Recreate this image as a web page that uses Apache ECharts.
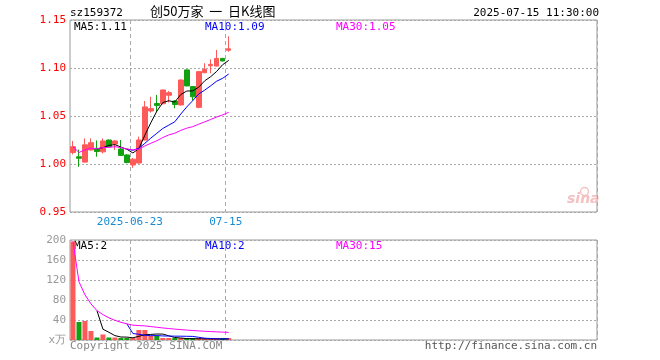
<!DOCTYPE html>
<html><head><meta charset="utf-8">
<script src="https://cdn.jsdelivr.net/npm/echarts@6/dist/echarts.min.js"></script>
<style>html,body{margin:0;padding:0;background:#fff}#c{width:660px;height:360px}</style>
</head><body><div id="c"></div>
<script>
// ---- data ----
const dates = ['2025-06-09','2025-06-10','2025-06-11','2025-06-12','2025-06-13',
  '2025-06-16','2025-06-17','2025-06-18','2025-06-19','2025-06-20',
  '2025-06-23','2025-06-24','2025-06-25','2025-06-26','2025-06-27',
  '2025-06-30','2025-07-01','2025-07-02','2025-07-03','2025-07-04',
  '2025-07-07','2025-07-08','2025-07-09','2025-07-10','2025-07-11',
  '2025-07-14','2025-07-15'];
const openP  = [1.012,1.0075,1.002,1.0146,1.0163,1.0127,1.025,1.0208,1.0155,1.0094,0.999,1.001,1.025,1.0552,1.063,1.0628,1.0716,1.0656,1.0615,1.098,1.0806,1.059,1.0951,1.1024,1.102,1.110,1.1185];
const closeP = [1.018,1.006,1.020,1.0222,1.013,1.024,1.018,1.024,1.009,1.0015,1.005,1.025,1.0595,1.0577,1.061,1.0771,1.0743,1.062,1.0875,1.0813,1.070,1.0962,1.0986,1.1038,1.110,1.1073,1.120];
const lowP   = [1.010,0.997,1.0015,1.0139,1.0076,1.011,1.0175,1.0146,1.0083,1.0007,0.996,1.0005,1.0245,1.0535,1.054,1.062,1.064,1.058,1.061,1.081,1.066,1.058,1.0945,1.0945,1.1014,1.107,1.117];
const highP  = [1.024,1.015,1.0267,1.0267,1.0245,1.0267,1.0255,1.025,1.025,1.0104,1.0063,1.0285,1.0656,1.070,1.072,1.0775,1.076,1.0665,1.088,1.0985,1.0813,1.097,1.105,1.109,1.1188,1.1105,1.133];
const ma5  = ['-','-','-','-',1.0158,1.017,1.0194,1.0202,1.0176,1.0153,1.0115,1.016,1.030,1.043,1.055,1.064,1.0659,1.0645,1.0724,1.0760,1.0762,1.0800,1.0867,1.0910,1.0965,1.1035,1.1079];
const ma10 = ['-','-','-','-','-','-','-','-','-',1.0156,1.0143,1.0165,1.0215,1.027,1.032,1.037,1.0405,1.044,1.052,1.0595,1.0660,1.0730,1.0770,1.0815,1.0863,1.0893,1.0937];
const ma30 = [1.018,1.012,1.0147,1.0165,1.0158,1.0172,1.0173,1.0181,1.0171,1.0156,1.0146,1.0155,1.0188,1.0216,1.0242,1.0276,1.0303,1.0321,1.0350,1.0373,1.0389,1.0415,1.0439,1.0464,1.0490,1.0512,1.0538];
const volume = [197,36,38,18,5,11,5,5,4,4,4,20,20,8,8,3,3,3,3,2,2,2,2,2,2,2,3];
const volMa5  = ['-','-','-','-',58.8,21.6,15.4,8.8,6,5.8,4.4,7.4,10.4,11.2,12,11.8,8.4,5,4,2.8,2.6,2.4,2.2,2,2,2,2.2];
const volMa10 = ['-','-','-','-','-','-','-','-','-',32.3,13.0,11.4,9.6,8.6,8.9,8.1,7.9,7.7,7.6,7.4,7.2,5.4,3.6,3.0,2.4,2.3,2.3];
const volMa30 = [197,116.5,90.3,72.25,58.8,50.8,44.3,39.4,35.4,32.3,29.7,28.9,28.2,26.8,25.5,24.1,22.9,21.8,20.8,19.85,19.0,18.2,17.5,16.9,16.3,15.7,15.26];
const shownDates = ['2025-06-23','2025-07-15'];
const priceMin = 0.95, priceMax = 1.15, priceStep = 0.05;
const volMin = 0, volMax = 200, volStep = 40;
const SLOTS = 88;

// ---- build ----
const cats = dates.slice();
while (cats.length < SLOTS) cats.push('');
const kData = openP.map((o,i)=>[o, closeP[i], lowP[i], highP[i]]);
const RED = '#FF5A5A', GREEN = '#10A010';
const MONO = '"DejaVu Sans Mono", "Liberation Mono", monospace';
const shownIdx = shownDates.map(d => dates.indexOf(d));
const last = a => a[a.length-1];

const xCommon = {
  type:'category', data:cats, boundaryGap:true,
  axisLine:{show:false}, axisTick:{show:false},
  splitLine:{show:true, interval:(i)=>shownIdx.includes(i), lineStyle:{color:'#aaa', type:[4,3], width:1}}
};

const chart = echarts.init(document.getElementById('c'), null, {renderer:'canvas'});
chart.setOption({
  animation:false,
  backgroundColor:'#fff',
  grid:[
    {left:70, top:20, width:527, height:192, show:true, borderColor:'#999', borderWidth:1, backgroundColor:'transparent'},
    {left:70, top:240, width:527, height:100, show:true, borderColor:'#999', borderWidth:1, backgroundColor:'transparent'}
  ],
  xAxis:[
    Object.assign({gridIndex:0, axisLabel:{show:true, interval:(i)=>shownIdx.includes(i),
      formatter:(v,i)=> i===shownIdx[0] ? v : v.slice(5),
      color:'#1a8ad4', fontFamily:MONO, fontSize:11, margin:5, padding:[0,6,0,0]}}, xCommon),
    Object.assign({gridIndex:1, axisLabel:{show:false}}, xCommon)
  ],
  yAxis:[
    {type:'value', gridIndex:0, min:priceMin, max:priceMax, interval:priceStep,
     axisLine:{show:false}, axisTick:{show:false},
     axisLabel:{color:'#f00', fontFamily:MONO, fontSize:11, margin:4, formatter:v=>v.toFixed(2)},
     splitLine:{show:true, lineStyle:{color:'#aaa', type:[2,2], width:1}}},
    {type:'value', gridIndex:1, min:volMin, max:volMax, interval:volStep,
     axisLine:{show:false}, axisTick:{show:false},
     axisLabel:{color:'#999', fontFamily:MONO, fontSize:11, margin:4, formatter:v=> v===0 ? 'x万' : String(v)},
     splitLine:{show:true, lineStyle:{color:'#aaa', type:[2,2], width:1}}}
  ],
  series:[
    {type:'candlestick', xAxisIndex:0, yAxisIndex:0, data:kData, barWidth:5,
     itemStyle:{color:RED, color0:GREEN, borderColor:RED, borderColor0:GREEN, borderWidth:1}},
    {type:'line', xAxisIndex:0, yAxisIndex:0, data:ma5, showSymbol:false, symbol:'none', lineStyle:{color:'#000', width:1}},
    {type:'line', xAxisIndex:0, yAxisIndex:0, data:ma10, showSymbol:false, symbol:'none', lineStyle:{color:'#0000ff', width:1}},
    {type:'line', xAxisIndex:0, yAxisIndex:0, data:ma30, showSymbol:false, symbol:'none', lineStyle:{color:'#ff00ff', width:1}},
    {type:'bar', xAxisIndex:1, yAxisIndex:1, data:volume, barWidth:5, barMinHeight:2,
     itemStyle:{color:(p)=> closeP[p.dataIndex] >= openP[p.dataIndex] ? RED : GREEN}},
    {type:'line', xAxisIndex:1, yAxisIndex:1, data:volMa5, showSymbol:false, symbol:'none', lineStyle:{color:'#000', width:1}},
    {type:'line', xAxisIndex:1, yAxisIndex:1, data:volMa10, showSymbol:false, symbol:'none', lineStyle:{color:'#0000ff', width:1}},
    {type:'line', xAxisIndex:1, yAxisIndex:1, data:volMa30, showSymbol:false, symbol:'none', lineStyle:{color:'#ff00ff', width:1}}
  ],
  graphic:[
    {type:'text', left:70, top:8, style:{text:'sz159372', fill:'#000', font:'11px '+MONO}},
    {type:'text', left:150, top:5, style:{text:'创50万家  一  日K线图', fill:'#000', font:'13px "Noto Sans CJK SC"'}},
    {type:'text', right:61, top:8, style:{text:dates[dates.length-1]+' 11:30:00', fill:'#000', font:'11px '+MONO}},
    {type:'text', left:74, top:22, style:{text:'MA5:'+last(ma5).toFixed(2), fill:'#000', font:'11px '+MONO}},
    {type:'text', left:205, top:22, style:{text:'MA10:'+last(ma10).toFixed(2), fill:'#0000ff', font:'11px '+MONO}},
    {type:'text', left:336, top:22, style:{text:'MA30:'+last(ma30).toFixed(2), fill:'#ff00ff', font:'11px '+MONO}},
    {type:'text', left:74, top:241, style:{text:'MA5:'+Math.round(last(volMa5)), fill:'#000', font:'11px '+MONO}},
    {type:'text', left:205, top:241, style:{text:'MA10:'+Math.round(last(volMa10)), fill:'#0000ff', font:'11px '+MONO}},
    {type:'text', left:336, top:241, style:{text:'MA30:'+Math.round(last(volMa30)), fill:'#ff00ff', font:'11px '+MONO}},
    {type:'text', left:70, top:341, style:{text:'Copyright 2025 SINA.COM', fill:'#888', font:'11px '+MONO}},
    {type:'text', right:63, top:341, style:{text:'http://finance.sina.com.cn', fill:'#555', font:'11px '+MONO}},
    {type:'circle', left:578, top:185, shape:{r:4}, style:{fill:'none', stroke:'#f4c4c4', lineWidth:1.5}},
    {type:'text', left:567, top:192, style:{text:'sina', fill:'#f4c0c0', font:'italic bold 14px "DejaVu Sans"'}}
  ]
});
</script></body></html>
